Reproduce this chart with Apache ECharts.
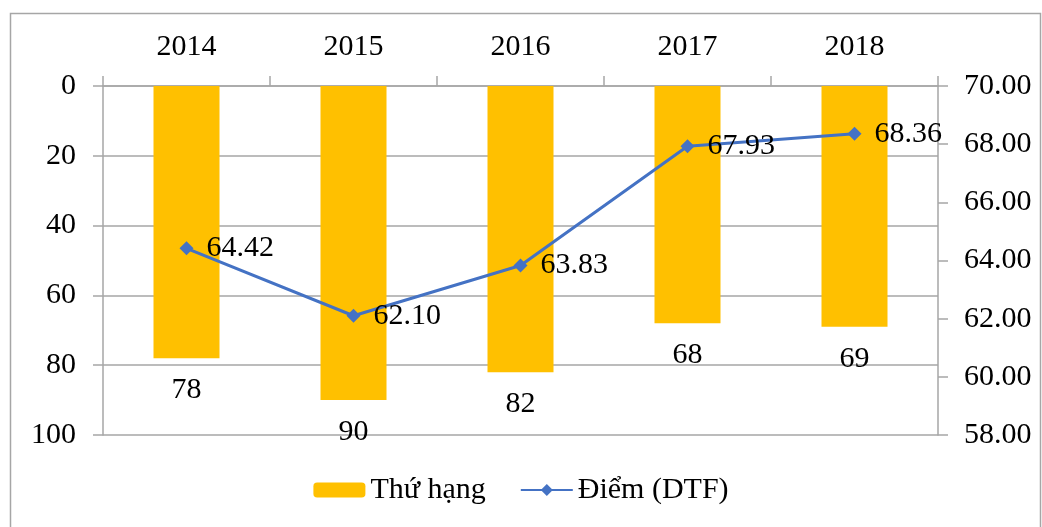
<!DOCTYPE html>
<html>
<head>
<meta charset="utf-8">
<script src="https://cdn.jsdelivr.net/npm/echarts@6/dist/echarts.min.js"></script>
<style>
  html, body { margin: 0; padding: 0; background: #fff; }
  #main { width: 1042px; height: 527px; }
</style>
</head>
<body>
<div id="main"></div>
<script>
var years = ['2014', '2015', '2016', '2017', '2018'];
var rank = [78, 90, 82, 68, 69];
var dtf = [64.42, 62.10, 63.83, 67.93, 68.36];

var font = '"Liberation Serif", "Times New Roman", serif';
var fs = 30;
var chart = echarts.init(document.getElementById('main'));

var option = {
    backgroundColor: '#fff',
    textStyle: { fontFamily: font, color: '#000' },
    graphic: [{
        type: 'rect',
        shape: { x: 10.5, y: 13.5, width: 1030, height: 540 },
        style: { fill: 'none', stroke: '#a6a6a6', lineWidth: 1.5 },
        silent: true
    }],
    grid: { left: 103, right: 104, top: 86, bottom: 92 },
    legend: {
        bottom: 17,
        left: 'center',
        itemWidth: 52,
        itemHeight: 15,
        itemGap: 34,
        textStyle: { fontFamily: font, fontSize: fs, color: '#000' },
        data: ['Thứ hạng', 'Điểm (DTF)']
    },
    xAxis: {
        type: 'category',
        position: 'top',
        data: years,
        axisLine: { lineStyle: { color: '#a6a6a6', width: 1.5 } },
        axisTick: { show: true, length: 10, lineStyle: { color: '#a6a6a6', width: 1.5 } },
        axisLabel: { fontFamily: font, fontSize: fs, color: '#000', margin: 24 }
    },
    yAxis: [{
        type: 'value',
        inverse: true,
        min: 0,
        max: 100,
        interval: 20,
        axisLine: { show: true, lineStyle: { color: '#a6a6a6', width: 1.5 } },
        axisTick: { show: true, length: 10, lineStyle: { color: '#a6a6a6', width: 1.5 } },
        splitLine: { lineStyle: { color: '#a6a6a6', width: 1.5 } },
        axisLabel: { fontFamily: font, fontSize: fs, color: '#000', margin: 27 }
    }, {
        type: 'value',
        min: 58,
        max: 70,
        interval: 2,
        axisLine: { show: true, lineStyle: { color: '#a6a6a6', width: 1.5 } },
        axisTick: { show: true, length: 10, lineStyle: { color: '#a6a6a6', width: 1.5 } },
        splitLine: { show: false },
        axisLabel: {
            fontFamily: font, fontSize: fs, color: '#000', margin: 26,
            formatter: function (v) { return v.toFixed(2); }
        }
    }],
    series: [{
        name: 'Thứ hạng',
        type: 'bar',
        yAxisIndex: 0,
        data: rank,
        barWidth: 66,
        itemStyle: { color: '#FFC000' },
        label: {
            show: true,
            position: 'bottom',
            distance: 17,
            fontFamily: font,
            fontSize: fs,
            color: '#000'
        }
    }, {
        name: 'Điểm (DTF)',
        type: 'line',
        yAxisIndex: 1,
        data: dtf,
        symbol: 'diamond',
        symbolSize: 14,
        lineStyle: { color: '#4472C4', width: 3 },
        itemStyle: { color: '#4472C4' },
        label: {
            show: true,
            position: 'right',
            distance: 13,
            fontFamily: font,
            fontSize: fs,
            color: '#000',
            formatter: function (p) { return p.value.toFixed(2); }
        }
    }]
};

chart.setOption(option);
</script>
</body>
</html>
